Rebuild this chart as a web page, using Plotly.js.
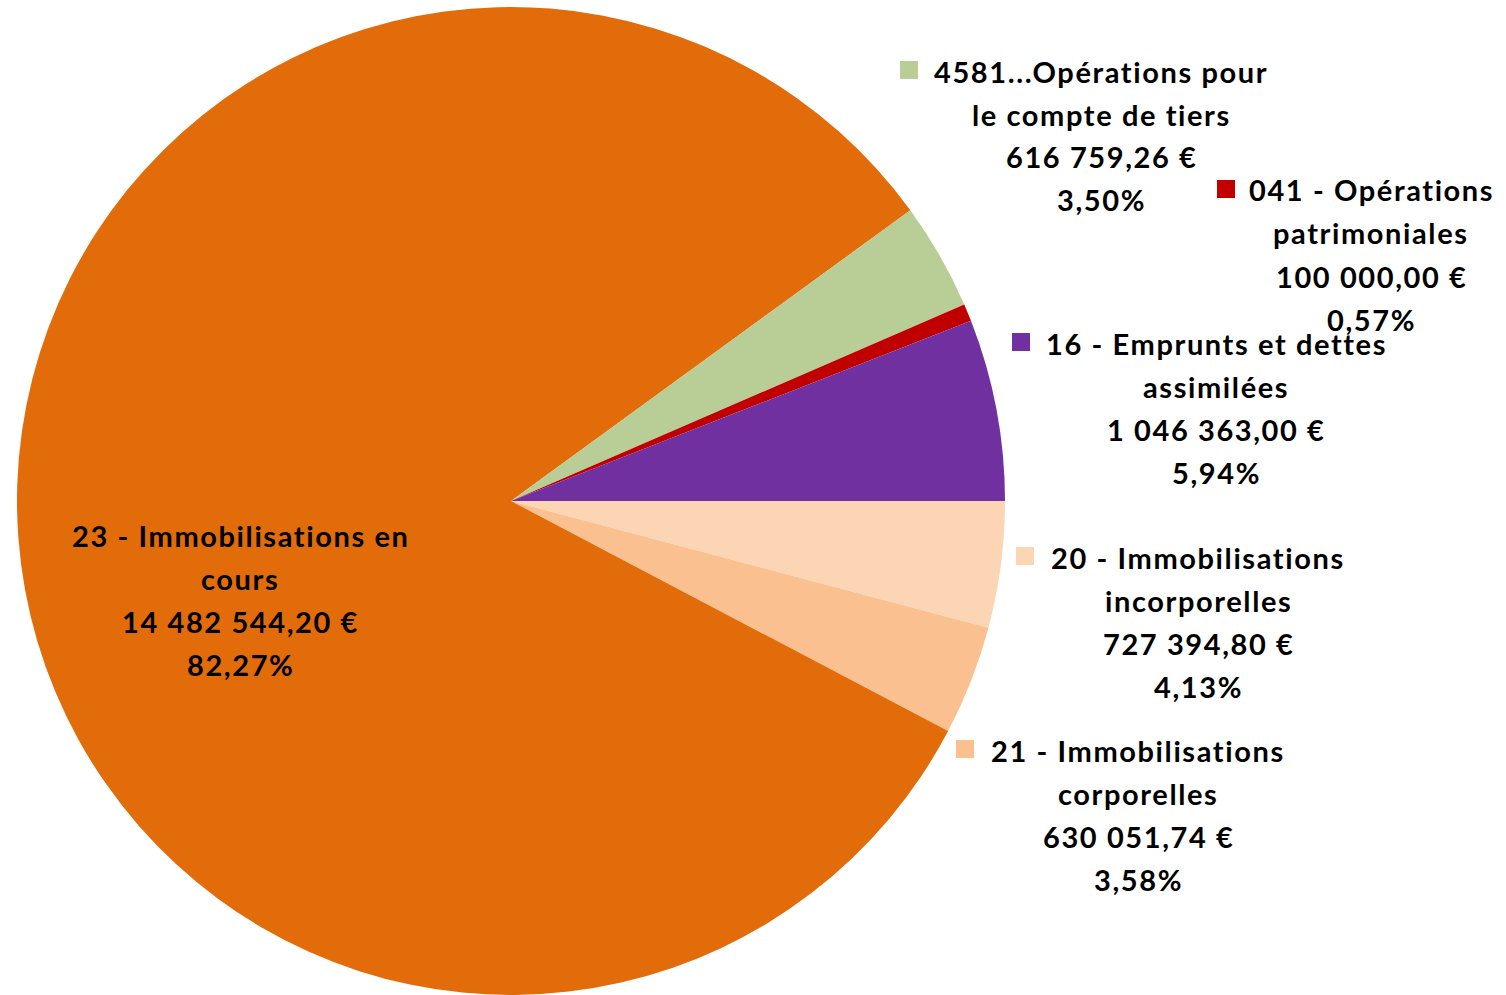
<!DOCTYPE html>
<html>
<head>
<meta charset="utf-8">
<script src="https://cdn.plot.ly/plotly-3.0.1.min.js"></script>
<style>
html,body{margin:0;padding:0;background:#fff;}
#chart{width:1506px;height:995px;}
.annotation-text{letter-spacing:1.6px;}
</style>
</head>
<body>
<div id="chart"></div>
<script>
// ---- Data ----
const categories = [
  '20 - Immobilisations incorporelles',
  '21 - Immobilisations corporelles',
  '23 - Immobilisations en cours',
  '4581...Opérations pour le compte de tiers',
  '041 - Opérations patrimoniales',
  '16 - Emprunts et dettes assimilées'
];
const labelLine1 = ['20 - Immobilisations', '21 - Immobilisations', '23 - Immobilisations en', '4581...Opérations pour', '041 - Opérations', '16 - Emprunts et dettes'];
const labelLine2 = ['incorporelles', 'corporelles', 'cours', 'le compte de tiers', 'patrimoniales', 'assimilées'];
const values = [727394.80, 630051.74, 14482544.20, 616759.26, 100000.00, 1046363.00];
const colors = ['#FCD5B5', '#FAC090', '#E36C0A', '#B9CD96', '#C00000', '#7030A0'];

// ---- Label layout (pixels): text centre x, first line centre y, legend-key left x (null = none)
const labelCx = [1197, 1137, 239, 1100, 1370, 1215];
const labelY0 = [557, 750, 535, 71, 190, 343];
const keyX = [1016, 956, null, 900, 1217, 1012];

const W = 1506, H = 995, LINE = 43, FONT = 29, KEY = 18;
const px = x => x / W;
const py = y => 1 - y / H;

function fmtEuro(v) {
  const parts = v.toFixed(2).split('.');
  return parts[0].replace(/\B(?=(\d{3})+(?!\d))/g, ' ') + ',' + parts[1] + ' €';
}
const total = values.reduce((a, b) => a + b, 0);
function fmtPct(v) { return (v / total * 100).toFixed(2).replace('.', ',') + '%'; }

const annotations = [];
const shapes = [];
categories.forEach((c, i) => {
  const lines = [labelLine1[i], labelLine2[i], fmtEuro(values[i]), fmtPct(values[i])];
  lines.forEach((t, k) => {
    annotations.push({
      xref: 'paper', yref: 'paper', x: px(labelCx[i] + 1), y: py(labelY0[i] + k * LINE),
      xanchor: 'center', yanchor: 'middle', showarrow: false,
      text: '<b>' + t + '</b>',
      font: {family: 'Lato, "Open Sans", sans-serif', size: FONT, color: '#000'}
    });
  });
  if (keyX[i] !== null) {
    const cy = labelY0[i];
    shapes.push({
      type: 'rect', xref: 'paper', yref: 'paper',
      x0: px(keyX[i]), x1: px(keyX[i] + KEY), y0: py(cy - KEY / 2 - 1), y1: py(cy + KEY / 2 - 1),
      fillcolor: colors[i], line: {width: 0}
    });
  }
});

const trace = {
  type: 'pie',
  labels: categories,
  values: values,
  sort: false,
  direction: 'clockwise',
  rotation: 90,
  marker: {colors: colors, line: {width: 0}},
  textinfo: 'none',
  hoverinfo: 'label+value+percent',
  showlegend: false,
  domain: {x: [px(17), px(1005)], y: [0, 988 / H]}
};

const layout = {
  width: W, height: H,
  margin: {l: 0, r: 0, t: 0, b: 0},
  paper_bgcolor: '#fff',
  showlegend: false,
  annotations: annotations,
  shapes: shapes
};

Plotly.newPlot('chart', [trace], layout, {staticPlot: true, displayModeBar: false});
</script>
</body>
</html>
